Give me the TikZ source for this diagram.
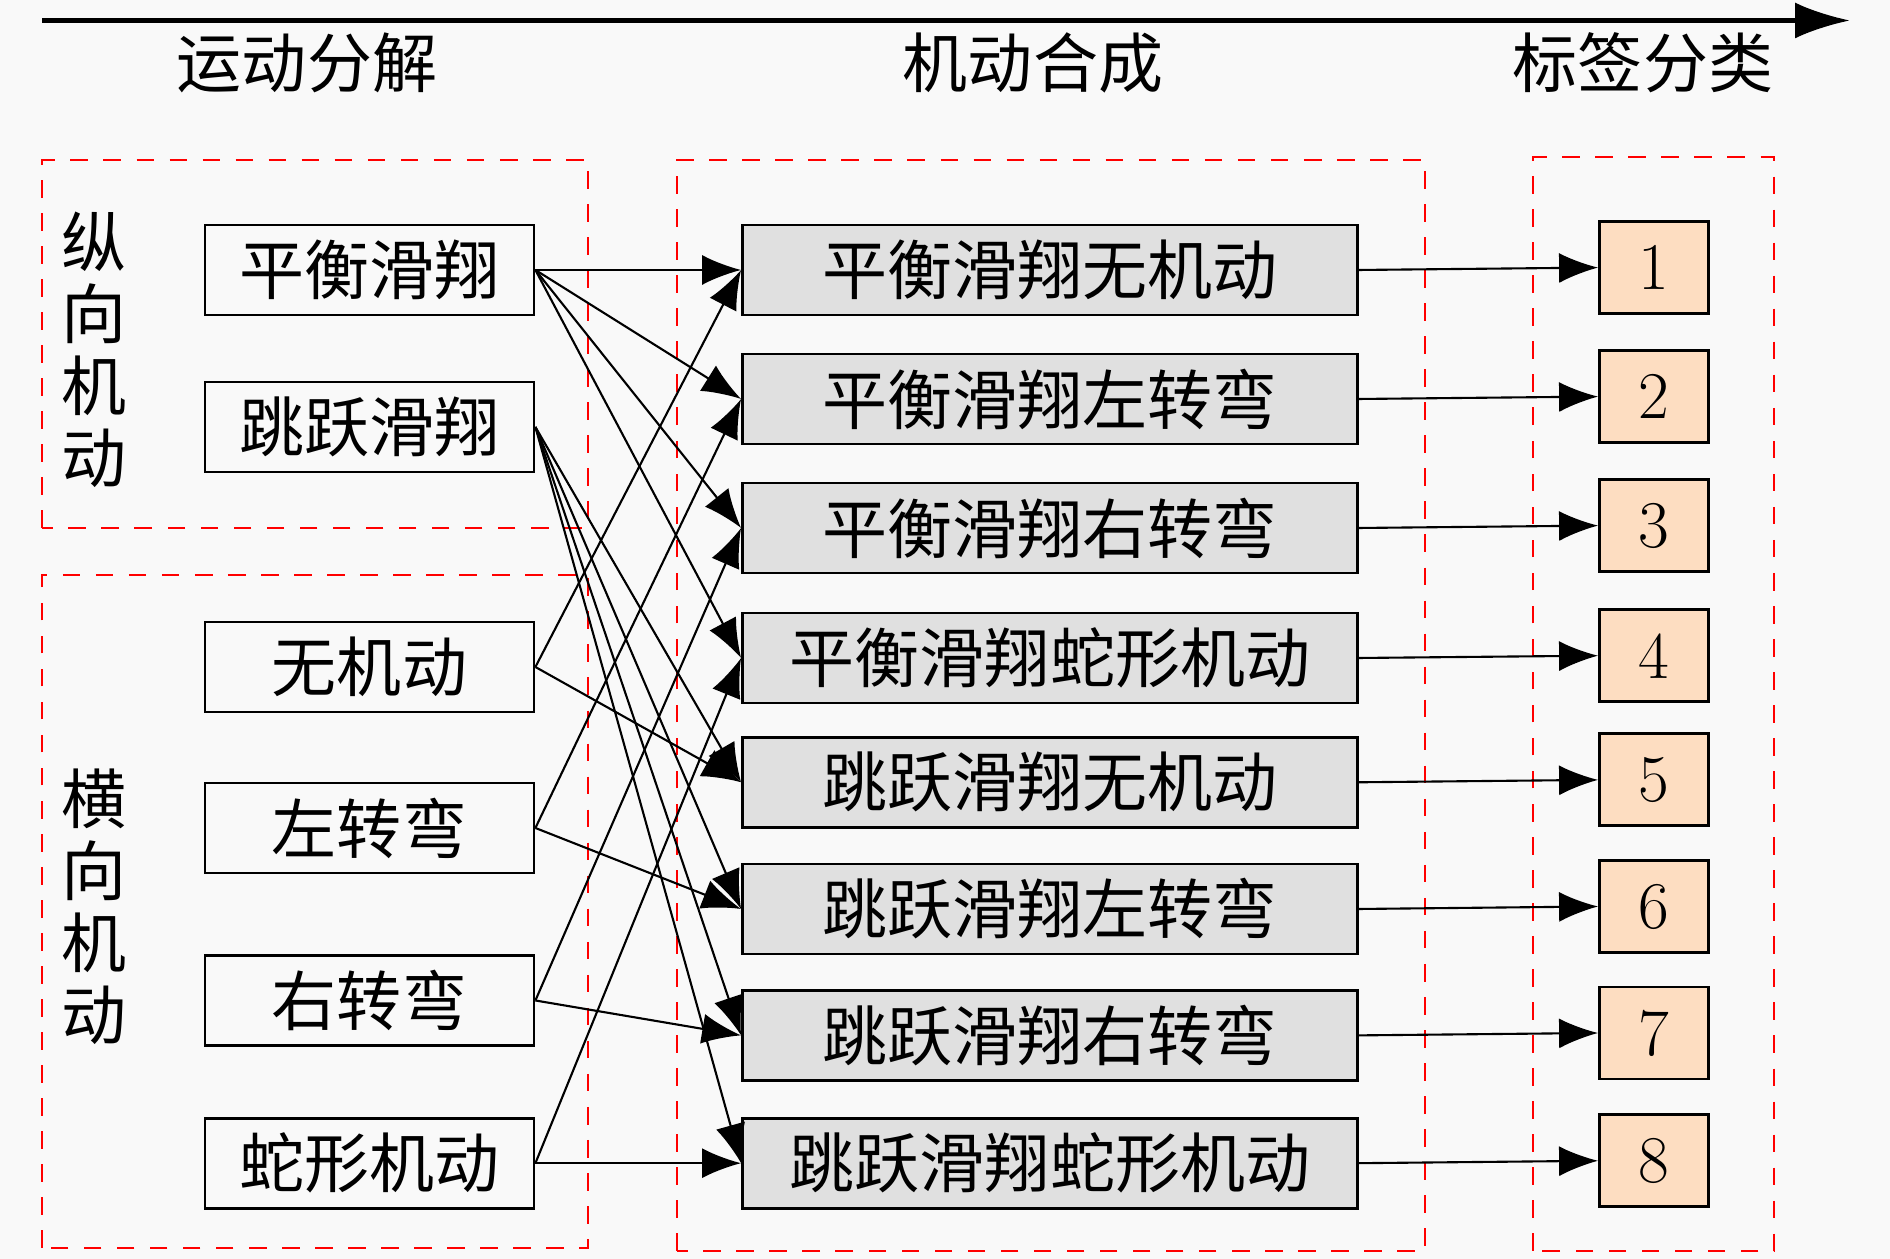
\documentclass[tikz,border=0pt]{standalone}
\usepackage{fontspec}
\usepackage{tikz}
\usetikzlibrary{arrows.meta}
\newfontfamily\cjk{Noto Sans CJK SC}
\definecolor{boxgray}{RGB}{224,224,224}
\definecolor{peach}{RGB}{253,221,193}
\definecolor{bggray}{RGB}{249,249,249}

\begin{document}
\begin{tikzpicture}[
  >={Latex[length=3.9mm,width=3mm]},
  every node/.style={font=\fontsize{18.5}{20.5}\selectfont\cjk},
  leftbox/.style={draw, line width=0.8pt, minimum width=3.29cm, minimum height=0.9cm, inner sep=0pt},
  midbox/.style={draw, line width=0.8pt, fill=boxgray, minimum width=6.15cm, minimum height=0.9cm, inner sep=0pt},
  numbox/.style={draw, line width=0.8pt, fill=peach, minimum width=1.09cm, minimum height=0.92cm, inner sep=0pt, font=\fontsize{19}{22}\selectfont},
  groupbox/.style={draw=red, dash pattern=on 5pt off 4.4pt, line width=0.8pt},
  link/.style={->, line width=0.6pt}
]
\fill[bggray] (0,0) rectangle (18.9,12.59);
\useasboundingbox (0,0) rectangle (18.9,12.59);

\coordinate (axisstart) at (0.42,12.385);
\coordinate (axisend) at (18.5,12.385);
\draw[-{Latex[length=5.5mm,width=3.6mm]}, line width=1.3pt] (axisstart) -- (axisend);

\node (h1) at (3.07,11.96) {运动分解};
\node (h2) at (10.33,11.96) {机动合成};
\node (h3) at (16.43,11.96) {标签分类};

\draw[groupbox] (0.42,7.31) rectangle (5.88,10.99);
\draw[groupbox] (0.42,0.11) rectangle (5.88,6.84);
\draw[groupbox] (6.77,0.08) rectangle (14.25,10.99);
\draw[groupbox] (15.33,0.08) rectangle (17.74,11.02);

\node[align=center] (g1) at (0.94,9.09) {纵\\向\\机\\动};
\node[align=center] (g2) at (0.94,3.52) {横\\向\\机\\动};

\node[leftbox] (l1) at (3.695,9.89) {平衡滑翔};
\node[leftbox] (l2) at (3.695,8.32) {跳跃滑翔};
\node[leftbox] (l3) at (3.695,5.92) {无机动};
\node[leftbox] (l4) at (3.695,4.31) {左转弯};
\node[leftbox] (l5) at (3.695,2.585) {右转弯};
\node[leftbox] (l6) at (3.695,0.958) {蛇形机动};

\node[midbox] (m1) at (10.5,9.89) {平衡滑翔无机动};
\node[midbox] (m2) at (10.5,8.60) {平衡滑翔左转弯};
\node[midbox] (m3) at (10.5,7.31) {平衡滑翔右转弯};
\node[midbox] (m4) at (10.5,6.01) {平衡滑翔蛇形机动};
\node[midbox] (m5) at (10.5,4.767) {跳跃滑翔无机动};
\node[midbox] (m6) at (10.5,3.50) {跳跃滑翔左转弯};
\node[midbox] (m7) at (10.5,2.236) {跳跃滑翔右转弯};
\node[midbox] (m8) at (10.5,0.958) {跳跃滑翔蛇形机动};

\node[numbox] (c1) at (16.54,9.914) {1};
\node[numbox] (c2) at (16.54,8.624) {2};
\node[numbox] (c3) at (16.54,7.334) {3};
\node[numbox] (c4) at (16.54,6.033) {4};
\node[numbox] (c5) at (16.54,4.791) {5};
\node[numbox] (c6) at (16.54,3.525) {6};
\node[numbox] (c7) at (16.54,2.26) {7};
\node[numbox] (c8) at (16.54,0.982) {8};

\draw[link] (l1.east) -- (m1.west);
\draw[link] (l1.east) -- (m2.west);
\draw[link] (l1.east) -- (m3.west);
\draw[link] (l1.east) -- (m4.west);

\draw[link] (l2.east) -- (m5.west);
\draw[link] (l2.east) -- (m6.west);
\draw[link] (l2.east) -- (m7.west);
\draw[link] (l2.east) -- (m8.west);

\draw[link] (l3.east) -- (m1.west);
\draw[link] (l3.east) -- (m5.west);
\draw[link] (l4.east) -- (m2.west);
\draw[link] (l4.east) -- (m6.west);
\draw[link] (l5.east) -- (m3.west);
\draw[link] (l5.east) -- (m7.west);
\draw[link] (l6.east) -- (m4.west);
\draw[link] (l6.east) -- (m8.west);

\draw[link] (m1.east) -- (c1.west);
\draw[link] (m2.east) -- (c2.west);
\draw[link] (m3.east) -- (c3.west);
\draw[link] (m4.east) -- (c4.west);
\draw[link] (m5.east) -- (c5.west);
\draw[link] (m6.east) -- (c6.west);
\draw[link] (m7.east) -- (c7.west);
\draw[link] (m8.east) -- (c8.west);
\end{tikzpicture}
\end{document}
